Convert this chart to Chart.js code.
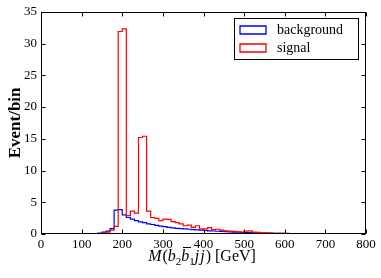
<!DOCTYPE html>
<html lang="en">
<head>
<meta charset="UTF-8">
<title>M(b2 b1 jj) distribution</title>
<style>
  html, body { margin: 0; padding: 0; background: #fff; }
  #wrap { width: 381px; height: 278px; }
</style>
<script src="https://cdn.jsdelivr.net/npm/chart.js@4"></script>
</head>
<body>
<div id="wrap"><canvas id="histChart" width="381" height="278"></canvas></div>
<script>
// histogram bins: 10 GeV wide, 0 - 800 GeV
const binStart = 0;
const binWidth = 10;

// Event/bin, one value per bin (80 bins)
const backgroundValues = [
  0, 0, 0, 0, 0, 0, 0, 0, 0, 0,
  0.01, 0.03, 0.05, 0.08, 0.15, 0.3, 0.45, 0.85, 3.75, 3.85,
  3.0, 2.6, 2.35, 2.1, 1.9, 1.8, 1.6, 1.5, 1.35, 1.25,
  1.15, 1.05, 0.95, 0.9, 0.85, 0.8, 0.75, 0.7, 0.65, 0.6,
  0.55, 0.5, 0.47, 0.43, 0.4, 0.37, 0.34, 0.31, 0.28, 0.26,
  0.24, 0.22, 0.2, 0.18, 0.16, 0.15, 0.13, 0.12, 0.11, 0.1,
  0.09, 0.08, 0.07, 0.06, 0.06, 0.05, 0.05, 0.04, 0.04, 0.03,
  0.03, 0.03, 0.02, 0.02, 0.02, 0.01, 0.01, 0.01, 0.01, 0.01
];
const signalValues = [
  0, 0, 0, 0, 0, 0, 0, 0, 0, 0,
  0, 0, 0, 0, 0.05, 0.15, 0.3, 0.6, 1.2, 31.9,
  32.3, 2.9, 3.6, 3.3, 15.2, 15.4, 3.6, 2.6, 2.45, 2.1,
  2.35, 2.3, 1.95, 1.8, 1.6, 1.3, 1.4, 1.05, 1.3, 0.8,
  0.8, 1.0, 0.7, 0.75, 0.6, 0.5, 0.45, 0.4, 0.35, 0.3,
  0.45, 0.5, 0.3, 0.25, 0.2, 0.18, 0.15, 0.12, 0.1, 0.1,
  0.08, 0.07, 0.06, 0.06, 0.05, 0.05, 0.04, 0.04, 0.03, 0.03,
  0.03, 0.02, 0.02, 0.02, 0.02, 0.01, 0.01, 0.01, 0.01, 0.01
];

const seriesLabels = ['background', 'signal'];
const seriesColors = ['#0000ff', '#ff0000'];
const xTicks = [0, 100, 200, 300, 400, 500, 600, 700, 800];
const yTicks = [0, 5, 10, 15, 20, 25, 30, 35];
const yTitle = 'Event/bin';

const serif = "'Liberation Serif', 'DejaVu Serif', serif";

// bin values -> step points (left edge of each bin + closing right edge)
function toSteps(values) {
  const pts = values.map((v, i) => ({ x: binStart + i * binWidth, y: v }));
  pts.push({ x: binStart + values.length * binWidth, y: values[values.length - 1] });
  return pts;
}

// frame, inward ticks, axis titles and legend, matplotlib style
const decorPlugin = {
  id: 'decor',
  afterDraw(chart) {
    const ctx = chart.ctx;
    const area = chart.chartArea;
    const xs = chart.scales.x, ys = chart.scales.y;
    const L = Math.round(area.left) + 0.5, R = Math.round(area.right) - 0.5;
    const T = Math.round(area.top) + 0.5, B = Math.round(area.bottom) - 0.5;
    ctx.save();
    ctx.strokeStyle = '#000';
    ctx.lineWidth = 1;
    ctx.strokeRect(L, T, R - L, B - T);

    // inward ticks
    ctx.beginPath();
    xTicks.forEach(v => {
      const px = Math.round(xs.getPixelForValue(v)) + 0.5;
      ctx.moveTo(px, B); ctx.lineTo(px, B - 4);
      ctx.moveTo(px, T); ctx.lineTo(px, T + 4);
    });
    yTicks.forEach(v => {
      const py = Math.round(ys.getPixelForValue(v)) + 0.5;
      ctx.moveTo(L, py); ctx.lineTo(L + 4, py);
      ctx.moveTo(R, py); ctx.lineTo(R - 4, py);
    });
    ctx.stroke();

    // y title
    ctx.fillStyle = '#000';
    ctx.save();
    ctx.translate(16, (area.top + area.bottom) / 2);
    ctx.rotate(-Math.PI / 2);
    ctx.font = 'bold 17px ' + serif;
    ctx.textAlign = 'center';
    ctx.textBaseline = 'middle';
    ctx.fillText(yTitle, 0, 0);
    ctx.restore();

    // x title: M(b2 b-bar1 jj) [GeV]
    const pieces = [
      { t: 'M', f: 'italic 16px ' + serif, pad: 1 },
      { t: '(', f: '16px ' + serif },
      { t: 'b', f: 'italic 16px ' + serif },
      { t: '2', f: '11px ' + serif, sub: true },
      { t: 'b', f: 'italic 16px ' + serif, bar: true },
      { t: '1', f: '11px ' + serif, sub: true },
      { t: 'j', f: 'italic 16px ' + serif, pad: 1 },
      { t: 'j', f: 'italic 16px ' + serif, pad: 1 },
      { t: ')', f: '16px ' + serif },
      { t: ' [GeV]', f: '16px ' + serif }
    ];
    let total = 0;
    pieces.forEach(p => { ctx.font = p.f; p.w = ctx.measureText(p.t).width + (p.pad || 0); total += p.w; });
    let cx = 202 - total / 2;
    const base = 261;
    ctx.fillStyle = '#000';
    ctx.textAlign = 'left';
    ctx.textBaseline = 'alphabetic';
    pieces.forEach(p => {
      ctx.font = p.f;
      ctx.fillText(p.t, cx, base + (p.sub ? 4 : 0));
      if (p.bar) {
        ctx.fillRect(Math.round(cx + 2), base - 14, Math.round(p.w), 1);
      }
      cx += p.w;
    });

    // legend box
    ctx.fillStyle = '#fff';
    ctx.fillRect(234, 18, 125, 42);
    ctx.strokeStyle = '#000';
    ctx.lineWidth = 1;
    ctx.strokeRect(234.5, 18.5, 124, 41);
    ctx.font = '14px ' + serif;
    ctx.textBaseline = 'middle';
    chart.data.datasets.forEach((ds, i) => {
      const rowY = 30 + i * 18;
      ctx.beginPath();
      ctx.rect(240, rowY - 4, 26, 8);
      ctx.lineWidth = 1.3;
      ctx.strokeStyle = seriesColors[i];
      ctx.stroke();
      ctx.fillStyle = '#000';
      ctx.fillText(ds.label, 277, rowY);
    });
    ctx.restore();
  }
};

new Chart(document.getElementById('histChart'), {
  type: 'line',
  data: {
    datasets: [
      {
        label: seriesLabels[0],
        data: toSteps(backgroundValues),
        borderColor: seriesColors[0],
        borderWidth: 1.2,
        stepped: 'before',
        pointRadius: 0,
        fill: false,
        order: 2
      },
      {
        label: seriesLabels[1],
        data: toSteps(signalValues),
        borderColor: seriesColors[1],
        borderWidth: 1.2,
        stepped: 'before',
        pointRadius: 0,
        fill: false,
        order: 1
      }
    ]
  },
  options: {
    responsive: false,
    animation: false,
    devicePixelRatio: 1,
    layout: { padding: { left: 0, right: 15, top: 10, bottom: 0 } },
    plugins: { legend: { display: false }, tooltip: { enabled: false } },
    scales: {
      x: {
        type: 'linear',
        min: 0,
        max: 800,
        afterBuildTicks: s => { s.ticks = xTicks.map(v => ({ value: v })); },
        afterFit: s => { s.height = 44; },
        grid: { display: false, drawTicks: false },
        border: { display: false },
        ticks: { color: '#000', padding: 3, maxRotation: 0, autoSkip: false, font: { family: serif, size: 13 } }
      },
      y: {
        type: 'linear',
        min: 0,
        max: 35,
        afterBuildTicks: s => { s.ticks = yTicks.map(v => ({ value: v })); },
        afterFit: s => { s.width = 41; },
        grid: { display: false, drawTicks: false },
        border: { display: false },
        ticks: { color: '#000', padding: 4, autoSkip: false, font: { family: serif, size: 13 } }
      }
    }
  },
  plugins: [decorPlugin]
});
</script>
</body>
</html>
